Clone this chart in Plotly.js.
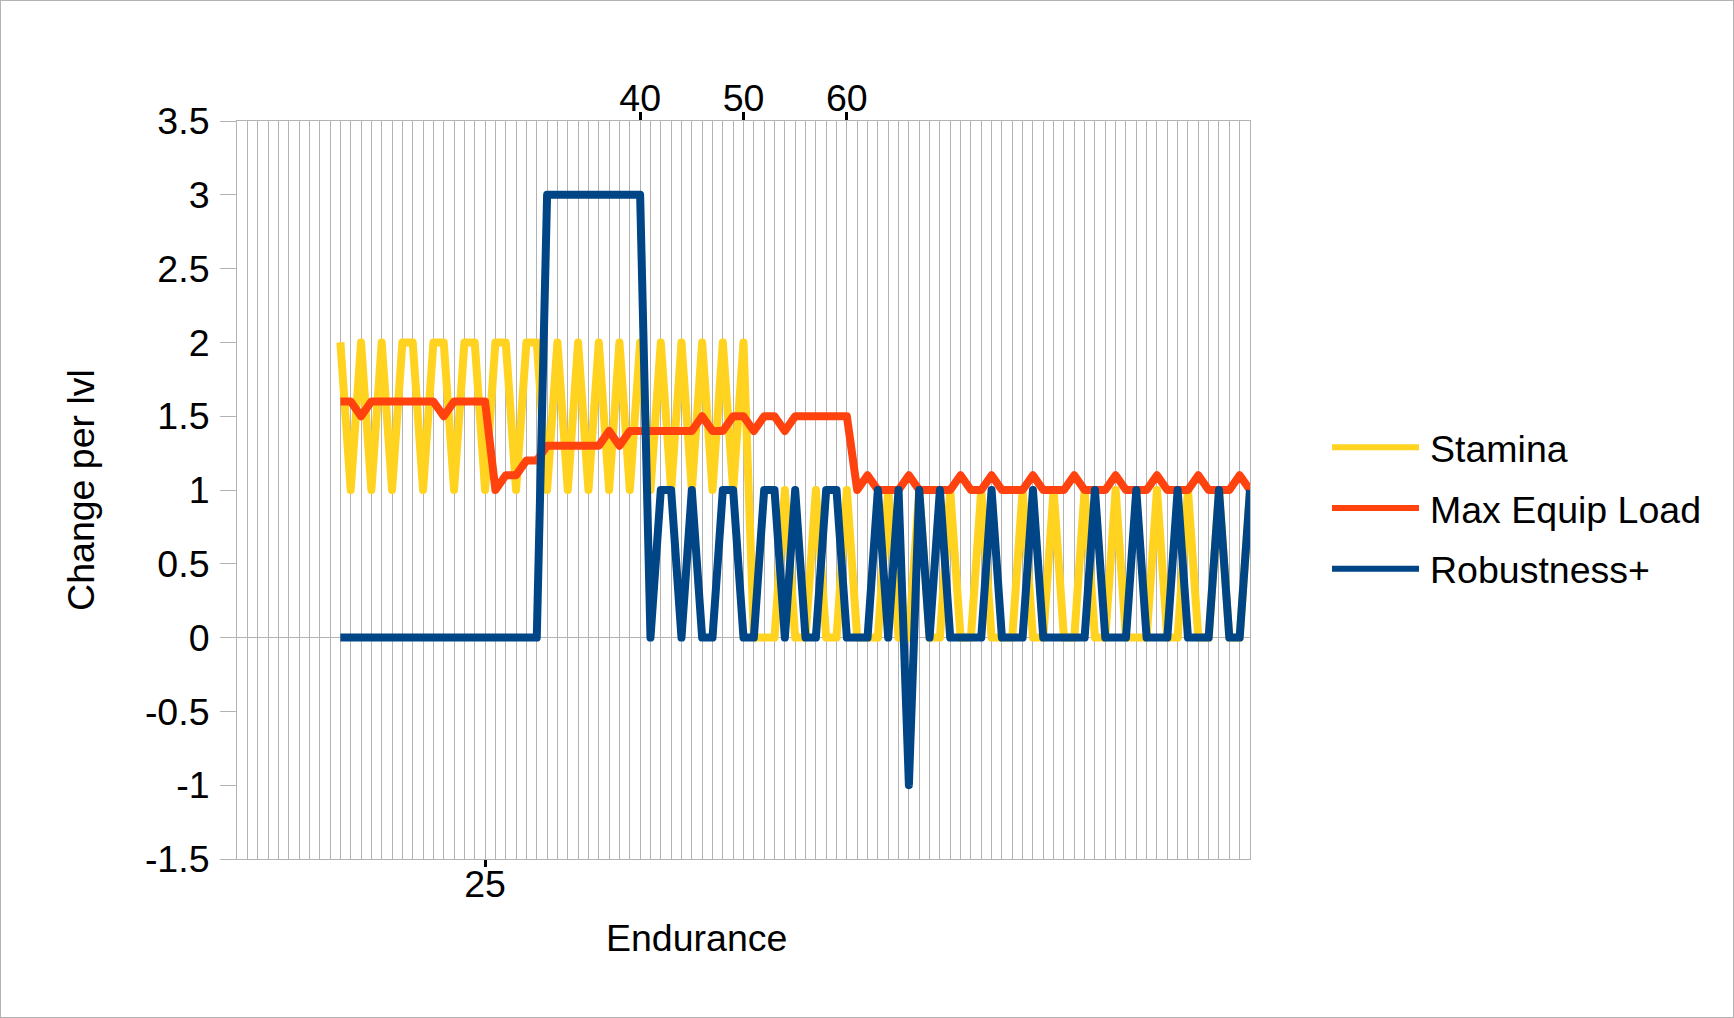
<!DOCTYPE html>
<html>
<head>
<meta charset="utf-8">
<script src="https://cdn.plot.ly/plotly-3.0.1.min.js"></script>
<style>
  html, body { margin: 0; padding: 0; background: #fff; }
  #chart { width: 1732px; height: 1016px; border: 1px solid #b3b3b3; }
  .js-line { stroke-linejoin: round; }
</style>
</head>
<body>
<div id="chart"></div>
<script>
// Endurance levels shown on the chart
const endurance = [
  11, 12, 13, 14, 15, 16, 17, 18, 19, 20,
  21, 22, 23, 24, 25, 26, 27, 28, 29, 30,
  31, 32, 33, 34, 35, 36, 37, 38, 39, 40,
  41, 42, 43, 44, 45, 46, 47, 48, 49, 50,
  51, 52, 53, 54, 55, 56, 57, 58, 59, 60,
  61, 62, 63, 64, 65, 66, 67, 68, 69, 70,
  71, 72, 73, 74, 75, 76, 77, 78, 79, 80,
  81, 82, 83, 84, 85, 86, 87, 88, 89, 90,
  91, 92, 93, 94, 95, 96, 97, 98, 99
];

// change per level
const stamina = [
  2, 1, 2, 1, 2, 1, 2, 2, 1, 2,
  2, 1, 2, 2, 1, 2, 2, 1, 2, 2,
  1, 2, 1, 2, 1, 2, 1, 2, 1, 2,
  1, 2, 1, 2, 1, 2, 1, 2, 1, 2,
  0, 0, 0, 1, 0, 0, 1, 0, 0, 1,
  0, 0, 0, 1, 0, 0, 1, 0, 0, 1,
  0, 0, 1, 0, 0, 0, 1, 0, 0, 1,
  0, 0, 1, 0, 0, 1, 0, 0, 0, 1,
  0, 0, 1, 0, 0, 1, 0, 0, 1
];

const maxEquipLoad = [
  1.6, 1.6, 1.5, 1.6, 1.6, 1.6, 1.6, 1.6, 1.6, 1.6,
  1.5, 1.6, 1.6, 1.6, 1.6, 1.0, 1.1, 1.1, 1.2, 1.2,
  1.3, 1.3, 1.3, 1.3, 1.3, 1.3, 1.4, 1.3, 1.4, 1.4,
  1.4, 1.4, 1.4, 1.4, 1.4, 1.5, 1.4, 1.4, 1.5, 1.5,
  1.4, 1.5, 1.5, 1.4, 1.5, 1.5, 1.5, 1.5, 1.5, 1.5,
  1.0, 1.1, 1.0, 1.0, 1.0, 1.1, 1.0, 1.0, 1.0, 1.0,
  1.1, 1.0, 1.0, 1.1, 1.0, 1.0, 1.0, 1.1, 1.0, 1.0,
  1.0, 1.1, 1.0, 1.0, 1.0, 1.1, 1.0, 1.0, 1.0, 1.1,
  1.0, 1.0, 1.0, 1.1, 1.0, 1.0, 1.0, 1.1, 1.0
];

const robustness = [
  0, 0, 0, 0, 0, 0, 0, 0, 0, 0,
  0, 0, 0, 0, 0, 0, 0, 0, 0, 0,
  3, 3, 3, 3, 3, 3, 3, 3, 3, 3,
  0, 1, 1, 0, 1, 0, 0, 1, 1, 0,
  0, 1, 1, 0, 1, 0, 0, 1, 1, 0,
  0, 0, 1, 0, 1, -1, 1, 0, 1, 0,
  0, 0, 0, 1, 0, 0, 0, 1, 0, 0,
  0, 0, 0, 1, 0, 0, 0, 1, 0, 0,
  0, 1, 0, 0, 0, 1, 0, 0, 1
];

// axis labels
const yTickVals = [3.5, 3, 2.5, 2, 1.5, 1, 0.5, 0, -0.5, -1, -1.5];
const yTickText = ['3.5', '3', '2.5', '2', '1.5', '1', '0.5', '0', '-0.5', '-1', '-1.5'];
const bottomTicks = [25];
const topTicks = [40, 50, 60];

const font = 'Liberation Sans, Arial, sans-serif';
const fsize = 37.5;
const gridColor = '#b3b3b3';

// last series sits on the top axis (same range) so that axis gets drawn
const seriesList = [
  {name: 'Stamina', y: stamina, color: '#ffd320', xaxis: 'x'},
  {name: 'Max Equip Load', y: maxEquipLoad, color: '#ff420e', xaxis: 'x'},
  {name: 'Robustness+', y: robustness, color: '#004586', xaxis: 'x2'}
];

const data = seriesList.map((s) => ({
  x: endurance,
  y: s.y,
  xaxis: s.xaxis,
  yaxis: 'y',
  type: 'scatter',
  mode: 'lines',
  name: s.name,
  legendgroup: s.name,
  line: {color: s.color, width: 8},
  hoverinfo: 'x+y+name'
}));

const layout = {
  width: 1732,
  height: 1016,
  margin: {l: 236, r: 483, t: 120, b: 158},
  paper_bgcolor: '#ffffff',
  plot_bgcolor: '#ffffff',
  font: {family: font, size: fsize, color: '#000'},
  showlegend: true,
  legend: {
    x: 1.079, xanchor: 'left',
    y: 0.475, yanchor: 'middle',
    font: {family: font, size: fsize, color: '#000'},
    itemwidth: 90,
    tracegroupgap: 9,
    bgcolor: 'rgba(0,0,0,0)'
  },
  xaxis: {
    range: [1, 99],
    tickmode: 'array',
    tickvals: bottomTicks,
    ticktext: bottomTicks.map(String),
    ticks: 'outside',
    ticklen: 7,
    tickwidth: 3,
    tickcolor: '#000',
    ticklabelstandoff: -15,
    showgrid: true,
    gridcolor: gridColor,
    gridwidth: 1,
    minor: {tickmode: 'linear', tick0: 1, dtick: 1, showgrid: true, gridcolor: gridColor, gridwidth: 1, ticks: ''},
    showline: true,
    linecolor: gridColor,
    linewidth: 1,
    mirror: true,
    zeroline: false,
    tickfont: {family: font, size: fsize, color: '#000'}
  },
  xaxis2: {
    range: [1, 99],
    overlaying: 'x',
    anchor: 'y',
    side: 'top',
    tickmode: 'array',
    tickvals: topTicks,
    ticktext: topTicks.map(String),
    ticks: 'outside',
    ticklen: 8,
    tickwidth: 3,
    tickcolor: '#000',
    ticklabelstandoff: -14,
    showgrid: false,
    showline: false,
    zeroline: false,
    tickfont: {family: font, size: fsize, color: '#000'}
  },
  yaxis: {
    range: [-1.5, 3.5],
    tickmode: 'array',
    tickvals: yTickVals,
    ticktext: yTickText,
    ticks: 'outside',
    ticklen: 16,
    tickcolor: gridColor,
    ticklabelstandoff: 3,
    showgrid: false,
    zeroline: true,
    zerolinecolor: gridColor,
    zerolinewidth: 1,
    showline: true,
    linecolor: gridColor,
    linewidth: 1,
    mirror: true,
    tickfont: {family: font, size: fsize, color: '#000'},
    title: {text: 'Change per lvl', standoff: 38, font: {family: font, size: fsize, color: '#000'}}
  },
  annotations: [
    {
      text: 'Endurance',
      xref: 'paper', yref: 'paper',
      x: 0.4534, y: -0.107,
      xanchor: 'center', yanchor: 'middle',
      showarrow: false,
      font: {family: font, size: fsize, color: '#000'}
    }
  ]
};

Plotly.newPlot('chart', data, layout, {displayModeBar: false, staticPlot: true}).then((gd) => {
  // LibreOffice-style long legend keys
  gd.querySelectorAll('.legendlines path').forEach((p) => {
    p.setAttribute('d', 'M2,0h87');
    p.style.strokeWidth = '6px';
  });
});
</script>
</body>
</html>
